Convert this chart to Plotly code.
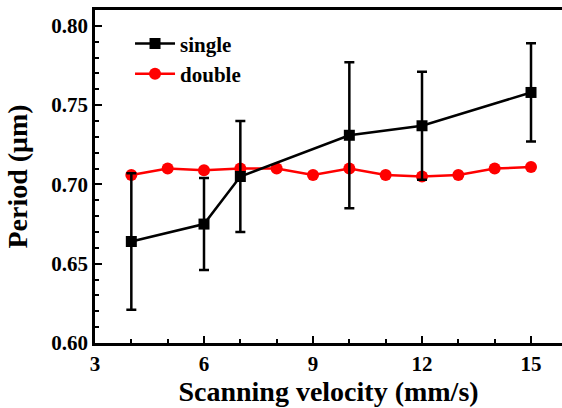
import plotly.graph_objects as go

# Data
single_x = [4, 6, 7, 10, 12, 15]
single_y = [0.664, 0.675, 0.705, 0.731, 0.737, 0.758]
single_err = [0.043, 0.029, 0.035, 0.046, 0.034, 0.031]

double_x = [4, 5, 6, 7, 8, 9, 10, 11, 12, 13, 14, 15]
double_y = [0.706, 0.710, 0.709, 0.710, 0.710, 0.706, 0.710, 0.706, 0.705, 0.706, 0.710, 0.711]

x_ticks = [3, 6, 9, 12, 15]
y_ticks = [0.60, 0.65, 0.70, 0.75, 0.80]
y_ticklabels = ["0.60", "0.65", "0.70", "0.75", "0.80"]

FONT = "Liberation Serif"

fig = go.Figure()
fig.add_trace(go.Scatter(
    x=double_x, y=double_y, name="double", mode="lines+markers",
    line=dict(color="#ff0000", width=2.5),
    marker=dict(symbol="circle", size=12, color="#ff0000"),
))
fig.add_trace(go.Scatter(
    x=single_x, y=single_y, name="single", mode="lines+markers",
    line=dict(color="#000000", width=2.5),
    marker=dict(symbol="square", size=11, color="#000000"),
    error_y=dict(type="data", array=single_err, visible=True,
                 color="#000000", thickness=2.5, width=5),
))

fig.update_layout(
    width=562, height=408,
    margin=dict(l=95, r=0, t=10, b=65, autoexpand=False),
    paper_bgcolor="white", plot_bgcolor="white",
    font=dict(family=FONT, color="black", size=21, weight="bold"),
    showlegend=True,
    legend=dict(x=0.075, y=0.96, xanchor="left", yanchor="top",
                traceorder="reversed",
                font=dict(family=FONT, size=21, weight="bold"),
                bgcolor="rgba(0,0,0,0)", itemwidth=40, tracegroupgap=0),
)
fig.update_xaxes(
    range=[3, 15.853], tickvals=x_ticks, ticks="inside", ticklen=7, tickwidth=2,
    tickcolor="black", showline=True, linewidth=2.5, linecolor="black",
    mirror=True, showgrid=False, zeroline=False, automargin=False,
    minor=dict(dtick=1, ticks="inside", ticklen=4, tickwidth=2, tickcolor="black",
               showgrid=False),
    tickfont=dict(family=FONT, size=21, weight="bold"),
    ticklabelstandoff=0,
    title=dict(text="Scanning velocity (mm/s)", standoff=6,
               font=dict(family=FONT, size=28, weight="bold")),
)
fig.update_yaxes(
    range=[0.60, 0.81], tickvals=y_ticks, ticktext=y_ticklabels, ticks="inside",
    ticklen=7, tickwidth=2, tickcolor="black", showline=True, linewidth=2.5,
    linecolor="black", mirror=False, showgrid=False, zeroline=False, automargin=False,
    minor=dict(dtick=0.01, tick0=0.60, ticks="inside", ticklen=4, tickwidth=2, tickcolor="black",
               showgrid=False),
    tickfont=dict(family=FONT, size=21, weight="bold"),
    title=dict(text="Period (μm)", standoff=16,
               font=dict(family=FONT, size=28, weight="bold")),
)

fig.write_html(
    "out.html",
    config={"displayModeBar": False},
    post_script="document.documentElement.style.overflow='hidden';document.body.style.margin='0';document.body.style.overflow='hidden';",
)
